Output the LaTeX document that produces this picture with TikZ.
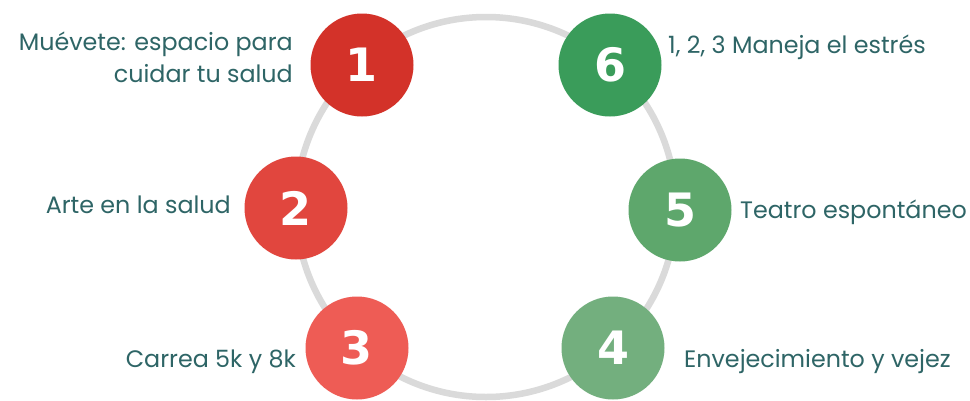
\documentclass[tikz,border=0pt]{standalone}
\usepackage{fontspec}
\setmainfont{Poppins}
\newfontfamily\numfont{DejaVu Sans}
\definecolor{cone}{HTML}{D33229}
\definecolor{ctwo}{HTML}{E1463E}
\definecolor{cthree}{HTML}{EE5C55}
\definecolor{csix}{HTML}{3A9C5A}
\definecolor{cfive}{HTML}{5EA76C}
\definecolor{cfour}{HTML}{73AF7E}
\definecolor{txt}{HTML}{2E6566}
\definecolor{ringc}{HTML}{DADADA}
\tikzset{
  ringline/.style={draw=ringc, line width=6.5pt},
  numcirc/.style={circle, minimum size=103pt, inner sep=0pt, text=white, font=\numfont\bfseries\fontsize{46}{46}\selectfont},
  lbl/.style={text=txt, inner sep=0pt, font=\fontsize{23.8}{32}\selectfont}
}
\begin{document}
\begin{tikzpicture}[x=1pt,y=-1pt]
\useasboundingbox (0,0) rectangle (970,400);
\fill[white] (0,0) rectangle (970,400);
\draw[ringline] (486,207) circle (190pt);
\node[numcirc, fill=cone] (n1) at (362,65) {1};
\node[numcirc, fill=ctwo] (n2) at (296,208) {2};
\node[numcirc, fill=cthree] (n3) at (357,348) {3};
\node[numcirc, fill=cfour] (n4) at (613,348) {4};
\node[numcirc, fill=cfive] (n5) at (680,210) {5};
\node[numcirc, fill=csix] (n6) at (610,65) {6};
\node[lbl, anchor=base east, align=right] (t1) at (293,82) {Muévete: espacio para\\cuidar tu salud};
\node[lbl, anchor=base east] (t2) at (231,213) {Arte en la salud};
\node[lbl, anchor=base east] (t3) at (296,367) {Carrea 5k y 8k};
\node[lbl, anchor=base west] (t4) at (684,367) {Envejecimiento y vejez};
\node[lbl, anchor=base west] (t5) at (740,218) {Teatro espontáneo};
\node[lbl, anchor=base west] (t6) at (668,53) {1, 2, 3 Maneja el estrés};
\end{tikzpicture}
\end{document}
